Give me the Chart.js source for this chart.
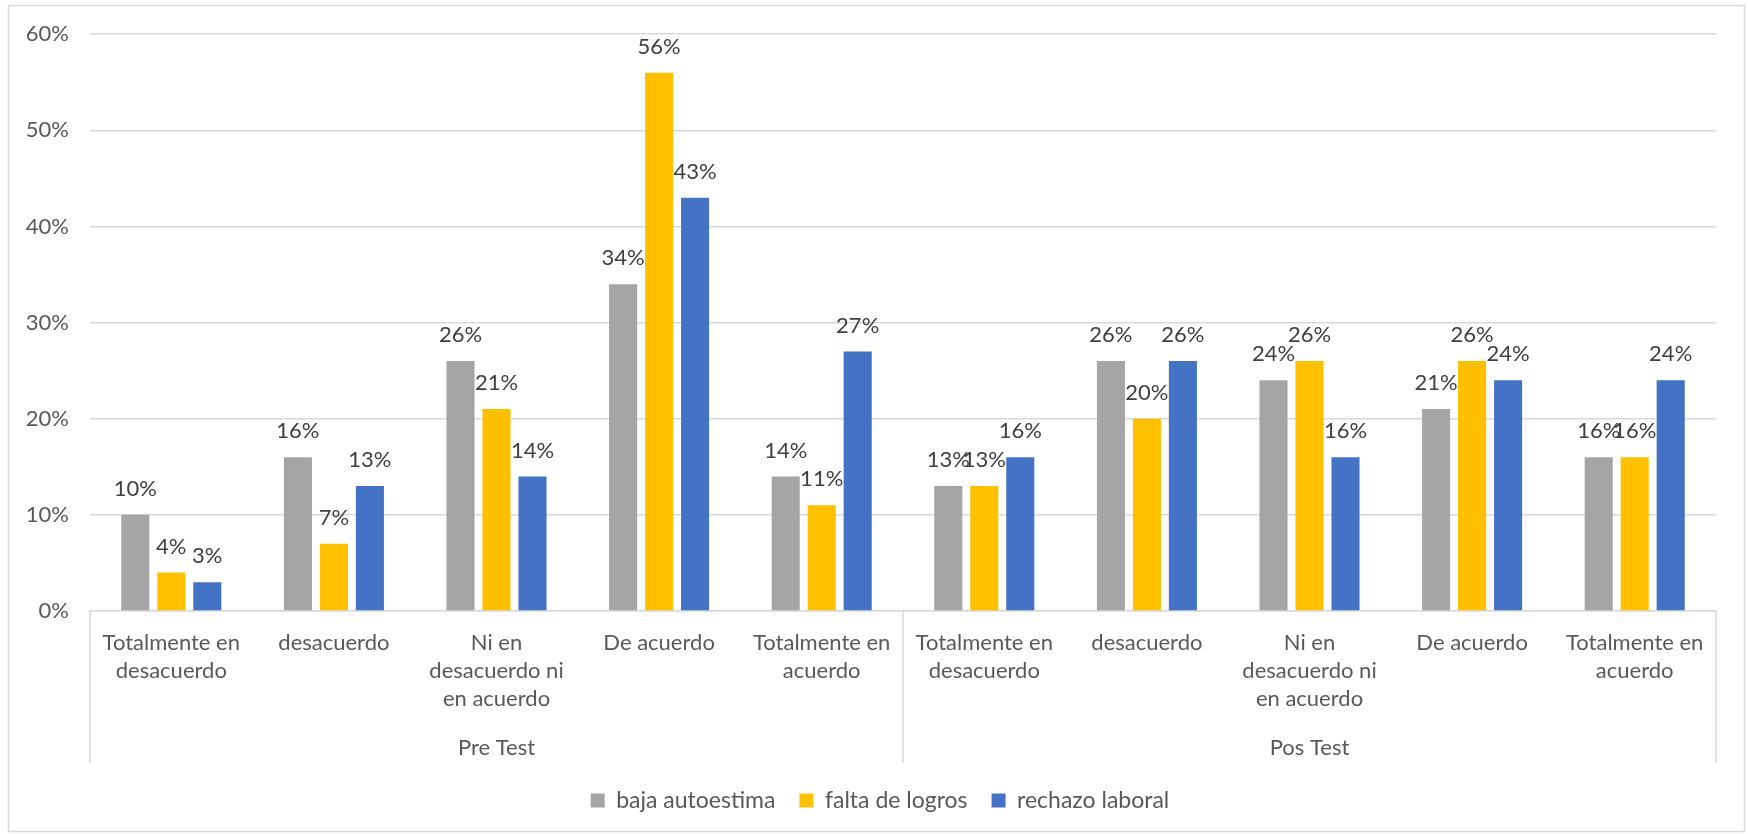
<!DOCTYPE html>
<html>
<head>
<meta charset="utf-8">
<script src="https://cdn.jsdelivr.net/npm/chart.js@4.4.1/dist/chart.umd.min.js"></script>
<style>
  body { margin: 0; background: #fff; }
  #wrap { width: 1748px; height: 834px; }
</style>
</head>
<body>
<div id="wrap"><canvas id="myChart" width="1748" height="834"></canvas></div>
<script>
const tickLabels = [
  ['Totalmente en', 'desacuerdo'], ['desacuerdo'], ['Ni en', 'desacuerdo ni', 'en acuerdo'], ['De acuerdo'], ['Totalmente en', 'acuerdo'],
  ['Totalmente en', 'desacuerdo'], ['desacuerdo'], ['Ni en', 'desacuerdo ni', 'en acuerdo'], ['De acuerdo'], ['Totalmente en', 'acuerdo']
];
const groups = ['Pre Test', 'Pos Test'];
const seriesNames = ['baja autoestima', 'falta de logros', 'rechazo laboral'];
const bajaAutoestima = [10, 16, 26, 34, 14, 13, 26, 24, 21, 16];
const faltaLogros = [4, 7, 21, 56, 11, 13, 20, 26, 26, 16];
const rechazoLaboral = [3, 13, 14, 43, 27, 16, 26, 16, 24, 24];
const colors = ['#A5A5A5', '#FFC000', '#4472C4'];

const FONT = 'Lato';
const TEXT = '#595959';

// frame + white background
const framePlugin = {
  id: 'frame',
  beforeDraw(chart) {
    const ctx = chart.ctx;
    ctx.save();
    ctx.fillStyle = '#fff';
    ctx.fillRect(0, 0, chart.width, chart.height);
    ctx.strokeStyle = '#d9d9d9';
    ctx.lineWidth = 1.5;
    ctx.strokeRect(8.5, 5.5, 1736, 826);
    ctx.restore();
  }
};

// nudge the legend so it is centred like the original
const legendShift = {
  id: 'legendShift',
  afterLayout(chart) {
    if (chart.legend) {
      chart.legend.left += 22;
      chart.legend.right += 22;
    }
  }
};

// value labels above bars
const valueLabels = {
  id: 'valueLabels',
  afterDatasetsDraw(chart) {
    const ctx = chart.ctx;
    ctx.save();
    ctx.font = '22px ' + FONT;
    ctx.fillStyle = '#404040';
    ctx.textAlign = 'center';
    ctx.textBaseline = 'middle';
    chart.data.datasets.forEach((ds, i) => {
      chart.getDatasetMeta(i).data.forEach((bar, j) => {
        ctx.fillText(ds.data[j] + '%', bar.x, bar.y - 26);
      });
    });
    ctx.restore();
  }
};

// second level of the category axis (Pre Test / Pos Test)
const groupAxis = {
  id: 'groupAxis',
  afterDraw(chart) {
    const x = chart.scales.x;
    const ctx = chart.ctx;
    const top = x.top;
    const bottom = 763;
    const mid = (x.getPixelForTick(4) + x.getPixelForTick(5)) / 2;
    ctx.save();
    ctx.strokeStyle = '#d9d9d9';
    ctx.lineWidth = 1.5;
    [x.left, mid, x.right].forEach(px => {
      ctx.beginPath();
      ctx.moveTo(px, top);
      ctx.lineTo(px, bottom);
      ctx.stroke();
    });
    ctx.font = '22px ' + FONT;
    ctx.fillStyle = TEXT;
    ctx.textAlign = 'center';
    ctx.textBaseline = 'middle';
    ctx.fillText(groups[0], (x.left + mid) / 2, 748);
    ctx.fillText(groups[1], (mid + x.right) / 2, 748);
    ctx.restore();
  }
};

const data = {
  labels: tickLabels,
  datasets: [
    { label: seriesNames[0], data: bajaAutoestima, backgroundColor: colors[0] },
    { label: seriesNames[1], data: faltaLogros, backgroundColor: colors[1] },
    { label: seriesNames[2], data: rechazoLaboral, backgroundColor: colors[2] }
  ]
};

const config = {
  type: 'bar',
  data: data,
  options: {
    responsive: false,
    animation: false,
    datasets: { bar: { categoryPercentage: 0.664, barPercentage: 0.78 } },
    layout: { padding: { top: 34, right: 32, bottom: 12, left: 0 } },
    plugins: {
      legend: {
        position: 'bottom',
        labels: {
          font: { family: FONT, size: 23 },
          color: TEXT,
          boxWidth: 14,
          boxHeight: 14,
          padding: 24
        }
      },
      tooltip: { enabled: false }
    },
    scales: {
      x: {
        grid: { display: false },
        border: { display: true, color: '#d9d9d9', width: 1.5 },
        ticks: {
          autoSkip: false,
          maxRotation: 0,
          padding: 10,
          color: TEXT,
          font: { family: FONT, size: 22, lineHeight: 1.27 }
        },
        afterFit: s => { s.height = 154; }
      },
      y: {
        min: 0,
        max: 60,
        grid: { color: '#d9d9d9', lineWidth: 1.5, drawTicks: false },
        border: { display: false },
        ticks: {
          stepSize: 10,
          padding: 21,
          color: TEXT,
          font: { family: FONT, size: 22 },
          callback: v => v + '%'
        },
        afterFit: s => { s.width = 90; }
      }
    }
  },
  plugins: [framePlugin, legendShift, valueLabels, groupAxis]
};

const myChart = new Chart(document.getElementById('myChart'), config);
</script>
</body>
</html>
